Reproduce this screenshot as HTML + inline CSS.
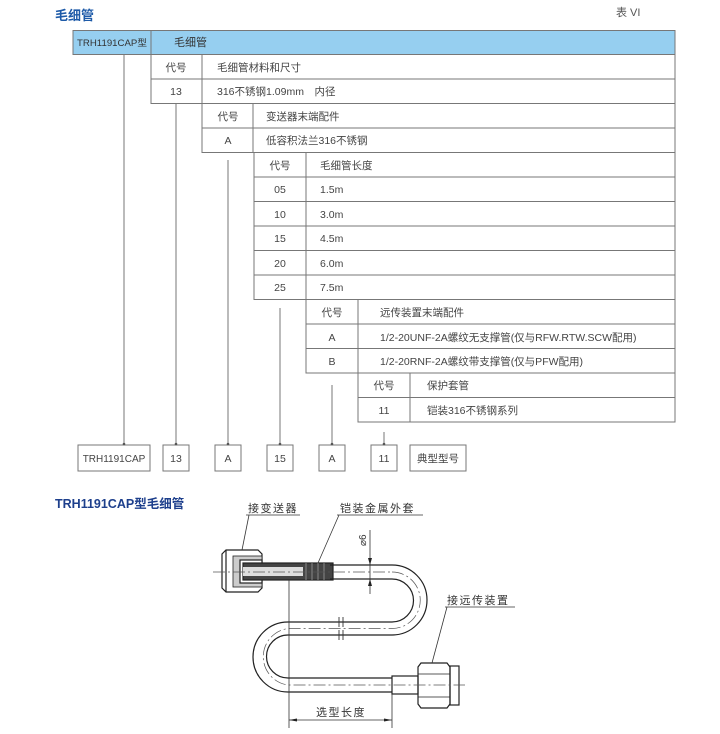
<!DOCTYPE html>
<html><head><meta charset="utf-8"><style>
html,body{margin:0;padding:0;background:#fff;}
svg{display:block;}
text{font-family:"Liberation Sans","Noto Sans CJK SC",sans-serif;}
</style></head><body>
<svg width="720" height="734" viewBox="0 0 720 734" xmlns="http://www.w3.org/2000/svg">
<text x="55" y="20" font-size="13" font-weight="bold" fill="#1d5aa8">毛细管</text>
<text x="616" y="16" font-size="11" fill="#555" font-family="Liberation Serif,Noto Serif CJK SC,serif">表 VI</text>

<rect x="73" y="30.5" width="602" height="24" fill="#96cff0" stroke="#777" stroke-width="1"/>
<line x1="151" y1="30.5" x2="151" y2="54.5" stroke="#777"/>
<text x="77" y="46" font-size="9" fill="#333" textLength="70" lengthAdjust="spacingAndGlyphs">TRH1191CAP型</text>
<text x="174" y="46" font-size="11" fill="#333">毛细管</text>

<g stroke="#777" stroke-width="1" fill="none">
<rect x="151" y="54.5" width="524" height="49"/>
<line x1="151" y1="79" x2="675" y2="79"/>
<line x1="202" y1="54.5" x2="202" y2="103.5"/>
<rect x="202" y="103.5" width="473" height="49"/>
<line x1="202" y1="128" x2="675" y2="128"/>
<line x1="253" y1="103.5" x2="253" y2="152.5"/>
<rect x="254" y="152.5" width="421" height="147"/>
<line x1="254" y1="177" x2="675" y2="177"/>
<line x1="254" y1="201.5" x2="675" y2="201.5"/>
<line x1="254" y1="226" x2="675" y2="226"/>
<line x1="254" y1="250.5" x2="675" y2="250.5"/>
<line x1="254" y1="275" x2="675" y2="275"/>
<line x1="306" y1="152.5" x2="306" y2="299.5"/>
<rect x="306" y="299.5" width="369" height="73.5"/>
<line x1="306" y1="324" x2="675" y2="324"/>
<line x1="306" y1="348.5" x2="675" y2="348.5"/>
<line x1="358" y1="299.5" x2="358" y2="373"/>
<rect x="358" y="373" width="317" height="49"/>
<line x1="358" y1="397.5" x2="675" y2="397.5"/>
<line x1="410" y1="373" x2="410" y2="422"/>
<line x1="124" y1="55" x2="124" y2="444"/>
<line x1="176" y1="104" x2="176" y2="444"/>
<line x1="228" y1="160" x2="228" y2="444"/>
<line x1="280" y1="308" x2="280" y2="444"/>
<line x1="332" y1="385" x2="332" y2="444"/>
<line x1="384" y1="432" x2="384" y2="444"/>
<rect x="78" y="445" width="72" height="26"/>
<rect x="163" y="445" width="26" height="26"/>
<rect x="215" y="445" width="26" height="26"/>
<rect x="267" y="445" width="26" height="26"/>
<rect x="319" y="445" width="26" height="26"/>
<rect x="371" y="445" width="26" height="26"/>
<rect x="410" y="445" width="56" height="26"/>
</g>
<g fill="#555"><circle cx="124" cy="444" r="1.3"/><circle cx="176" cy="444" r="1.3"/><circle cx="228" cy="444" r="1.3"/><circle cx="280" cy="444" r="1.3"/><circle cx="332" cy="444" r="1.3"/><circle cx="384" cy="444" r="1.3"/></g>

<g font-size="10.5" fill="#444">
<text x="176" y="71" text-anchor="middle">代号</text><text x="217" y="71">毛细管材料和尺寸</text>
<text x="176" y="95" text-anchor="middle">13</text><text x="217" y="95">316不锈钢1.09mm　内径</text>
<text x="228" y="120" text-anchor="middle">代号</text><text x="266" y="120">变送器末端配件</text>
<text x="228" y="144" text-anchor="middle">A</text><text x="266" y="144">低容积法兰316不锈钢</text>
<text x="280" y="169" text-anchor="middle">代号</text><text x="320" y="169">毛细管长度</text>
<text x="280" y="193" text-anchor="middle">05</text><text x="320" y="193">1.5m</text>
<text x="280" y="218" text-anchor="middle">10</text><text x="320" y="218">3.0m</text>
<text x="280" y="242" text-anchor="middle">15</text><text x="320" y="242">4.5m</text>
<text x="280" y="267" text-anchor="middle">20</text><text x="320" y="267">6.0m</text>
<text x="280" y="291" text-anchor="middle">25</text><text x="320" y="291">7.5m</text>
<text x="332" y="316" text-anchor="middle">代号</text><text x="380" y="316">远传装置末端配件</text>
<text x="332" y="341" text-anchor="middle">A</text><text x="380" y="341">1/2-20UNF-2A螺纹无支撑管(仅与RFW.RTW.SCW配用)</text>
<text x="332" y="365" text-anchor="middle">B</text><text x="380" y="365">1/2-20RNF-2A螺纹带支撑管(仅与PFW配用)</text>
<text x="384" y="389" text-anchor="middle">代号</text><text x="427" y="389">保护套管</text>
<text x="384" y="414" text-anchor="middle">11</text><text x="427" y="414">铠装316不锈钢系列</text>
<text x="114" y="462" text-anchor="middle" font-size="10">TRH1191CAP</text>
<text x="176" y="462" text-anchor="middle">13</text>
<text x="228" y="462" text-anchor="middle">A</text>
<text x="280" y="462" text-anchor="middle">15</text>
<text x="332" y="462" text-anchor="middle">A</text>
<text x="384" y="462" text-anchor="middle">11</text>
<text x="438" y="462" text-anchor="middle">典型型号</text>
</g>

<text x="55" y="508" font-size="12.5" font-weight="bold" fill="#1d3f8c">TRH1191CAP型毛细管</text>

<g fill="none" stroke="#222" stroke-width="1.2">
<path d="M226 550 L258 550 L262 554 L262 588 L258 592 L226 592 L222 588 L222 554 Z"/>
<line x1="226" y1="550" x2="226" y2="592"/>
<rect x="233" y="556" width="29" height="31" fill="#ccc" stroke-width="0.8"/>
<rect x="240" y="560" width="22" height="23" fill="#fff"/>
<rect x="243" y="563" width="90" height="17" fill="#444"/>
<rect x="243" y="567" width="60" height="9" fill="#ddd" stroke="none"/>
<path d="M330 565 L392 565 A35 35 0 0 1 392 635 L288 635 A21.5 21.5 0 0 0 288 678 L392 678"/>
<path d="M330 579 L392 579 A21.5 21.5 0 0 1 392 622 L288 622 A35 35 0 0 0 288 692 L392 692"/>
<rect x="392" y="676" width="26" height="18"/>
<path d="M421 663 L447 663 L450 667 L450 704 L447 708 L421 708 L418 704 L418 667 Z"/>
<line x1="418" y1="674" x2="450" y2="674" stroke-width="0.8"/>
<line x1="418" y1="697" x2="450" y2="697" stroke-width="0.8"/>
<rect x="450" y="666" width="9" height="39"/>
</g>
<g stroke="#999" stroke-width="0.8">
<line x1="306" y1="563" x2="306" y2="580"/><line x1="312" y1="563" x2="312" y2="580"/><line x1="318" y1="563" x2="318" y2="580"/><line x1="324" y1="563" x2="324" y2="580"/>
</g>
<g stroke="#555" stroke-width="0.7" fill="none" stroke-dasharray="12 3 2 3">
<line x1="213" y1="572" x2="392" y2="572"/>
<path d="M392 572 A28 28 0 0 1 392 628.5 L288 628.5 A28.5 28.5 0 0 0 288 685 L465 685"/>
</g>
<g stroke="#333" stroke-width="0.9">
<line x1="339" y1="617" x2="339" y2="627"/><line x1="343" y1="617" x2="343" y2="627"/>
<line x1="339" y1="630" x2="339" y2="640"/><line x1="343" y1="630" x2="343" y2="640"/>
</g>
<g stroke="#333" stroke-width="0.8" fill="none">
<line x1="246" y1="515" x2="300" y2="515"/>
<line x1="249" y1="515" x2="242" y2="550"/>
<line x1="337" y1="515" x2="423" y2="515"/>
<line x1="339" y1="515" x2="318" y2="563"/>
<line x1="445" y1="607" x2="515" y2="607"/>
<line x1="447" y1="607" x2="432" y2="663"/>
<line x1="370" y1="530" x2="370" y2="594"/>
<line x1="289" y1="580" x2="289" y2="728"/>
<line x1="392" y1="694" x2="392" y2="728"/>
<line x1="289" y1="720" x2="392" y2="720"/>
</g>
<g fill="#222">
<path d="M370 565 L368 558 L372 558 Z"/>
<path d="M370 579 L368 586 L372 586 Z"/>
<path d="M289 720 L297 718.5 L297 721.5 Z"/>
<path d="M392 720 L384 718.5 L384 721.5 Z"/>
</g>
<g font-size="11" fill="#333" font-family="Liberation Serif,Noto Serif CJK SC,serif">
<text x="248" y="512" letter-spacing="1.5">接变送器</text>
<text x="340" y="512" letter-spacing="1.5">铠装金属外套</text>
<text x="447" y="604" letter-spacing="1.5">接远传装置</text>
<text x="316" y="716" letter-spacing="1.5">选型长度</text>
<text x="0" y="0" font-size="10" transform="translate(366 546) rotate(-90)">⌀6</text>
</g>
</svg>
</body></html>
